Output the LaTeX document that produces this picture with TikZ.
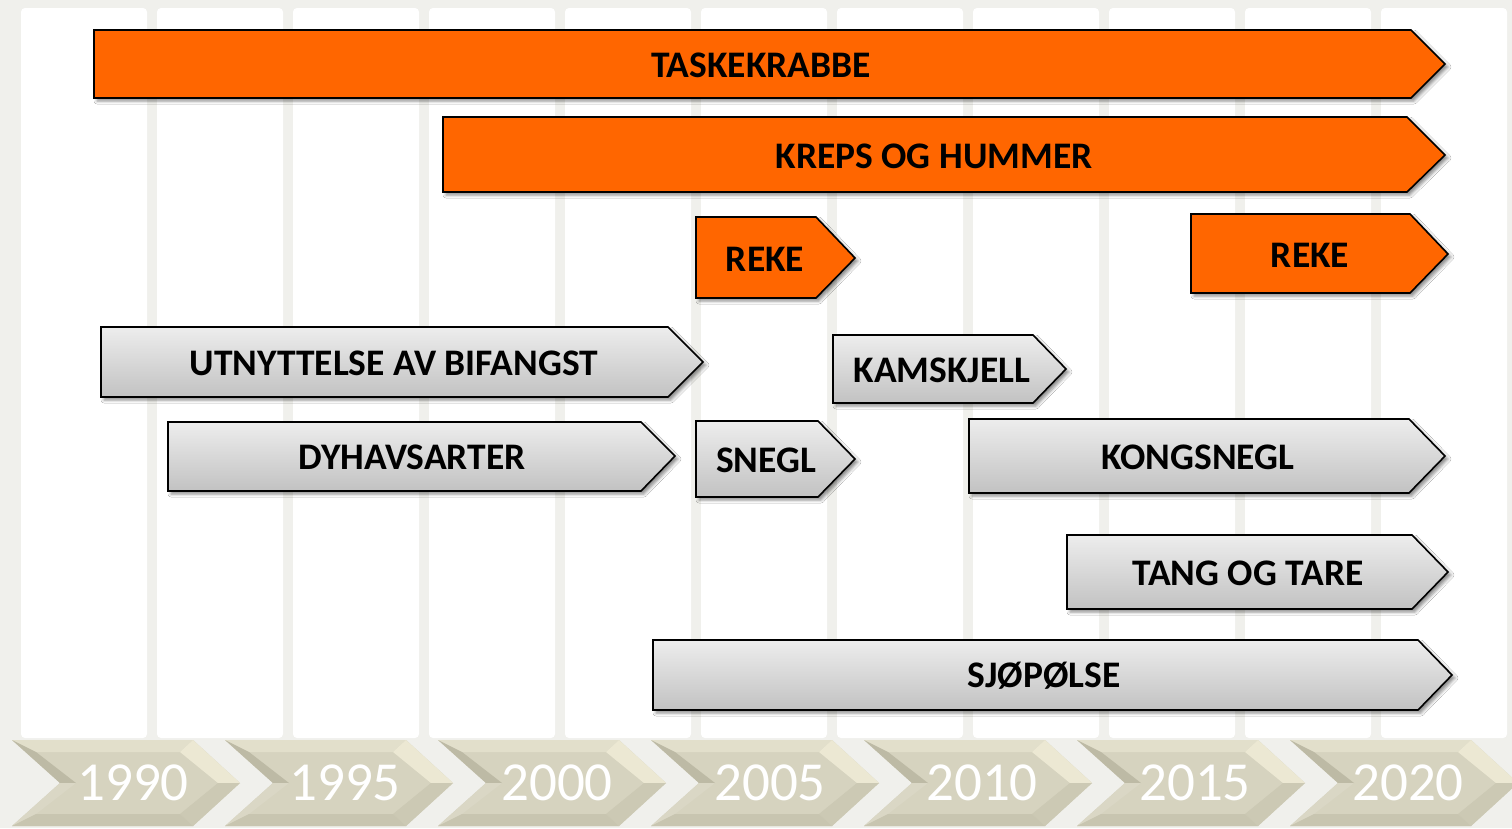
\documentclass[tikz,border=0pt]{standalone}
\usepackage{fontspec}
\setmainfont{Carlito}
\usetikzlibrary{shadows.blur}
\definecolor{bgc}{HTML}{F0F0EC}
\definecolor{orng}{HTML}{FF6600}
\definecolor{grtop}{HTML}{EDEDED}
\definecolor{grbot}{HTML}{C2C2C2}
\definecolor{chbase}{HTML}{D6D3BF}
\definecolor{chtop}{HTML}{E2DFCB}
\definecolor{chbot}{HTML}{C8C5B0}
\definecolor{chdark}{HTML}{BDBAA5}
\definecolor{chlight}{HTML}{ECE8D3}
\definecolor{chmid}{HTML}{CCC9B4}
\tikzset{
  colbox/.style={fill=white, rounded corners=4pt, draw=none},
  arrowshape/.style={draw=black, line width=1.6pt, line join=miter,
    blur shadow={shadow xshift=3pt, shadow yshift=-3pt, shadow blur radius=3pt, shadow opacity=45}},
  orangebox/.style={arrowshape, fill=orng},
  graybox/.style={arrowshape, top color=grtop, bottom color=grbot},
  lab/.style={font=\bfseries\fontsize{37.5}{42}\selectfont, text=black, inner sep=0pt, anchor=center},
  yearlab/.style={font=\fontsize{55}{60}\selectfont, text=white, inner sep=0pt, anchor=center},
}
\newcommand{\chev}[1]{%
  \begin{scope}[xshift=#1pt]
    \fill[chbase] (0,740) -- (181,740) -- (228,783) -- (181,826) -- (0,826) -- (48,783) -- cycle;
    \fill[chtop] (0,740) -- (181,740) -- (168,752) -- (24,752) -- cycle;
    \fill[chdark] (0,740) -- (24,752) -- (64,783) -- (48,783) -- cycle;
    \fill[chlight] (181,740) -- (228,783) -- (206,783) -- (168,752) -- cycle;
    \fill[chmid] (228,783) -- (181,826) -- (168,814) -- (206,783) -- cycle;
    \fill[chbase!90!white] (48,783) -- (64,783) -- (24,814) -- (0,826) -- cycle;
    \fill[chbot] (0,826) -- (181,826) -- (168,814) -- (24,814) -- cycle;
  \end{scope}}
\begin{document}
\begin{tikzpicture}[x=1pt, y=-1pt]
\useasboundingbox (0,0) rectangle (1512,828);
\fill[bgc] (0,0) rectangle (1512,828);
% columns
\foreach \i in {0,...,10} {
  \fill[colbox] ({21+136*\i},8) rectangle ({147+136*\i},738);
}
% year chevrons
\foreach \i in {0,...,6} { \chev{\number\numexpr 12+213*\i\relax} }
\node[yearlab] (y1990) at (133,783) {1990};
\node[yearlab] (y1995) at (345,783) {1995};
\node[yearlab] (y2000) at (557,783) {2000};
\node[yearlab] (y2005) at (770,783) {2005};
\node[yearlab] (y2010) at (982,783) {2010};
\node[yearlab] (y2015) at (1195,783) {2015};
\node[yearlab] (y2020) at (1408,783) {2020};
% orange arrows
\draw[orangebox] (94,30) -- (1411,30) -- (1445,64) -- (1411,98) -- (94,98) -- cycle;
\node[lab] (taske) at (761,65) {TASKEKRABBE};
\draw[orangebox] (443,117) -- (1407,117) -- (1445,155) -- (1407,192) -- (443,192) -- cycle;
\node[lab] (kreps) at (934,156) {KREPS OG HUMMER};
\draw[orangebox] (696,217) -- (816,217) -- (855,258) -- (816,298) -- (696,298) -- cycle;
\node[lab] (rekea) at (765,259) {REKE};
\draw[orangebox] (1191,214) -- (1410,214) -- (1448,254) -- (1410,293) -- (1191,293) -- cycle;
\node[lab] (rekeb) at (1310,255) {REKE};
% gray arrows
\draw[graybox] (101,327) -- (668,327) -- (703,362) -- (668,397) -- (101,397) -- cycle;
\node[lab] (utnytt) at (394,363) {UTNYTTELSE AV BIFANGST};
\draw[graybox] (833,335) -- (1033,335) -- (1066,369) -- (1033,403) -- (833,403) -- cycle;
\node[lab] (kamskjell) at (942,370) {KAMSKJELL};
\draw[graybox] (168,422) -- (641,422) -- (675,456) -- (641,491) -- (168,491) -- cycle;
\node[lab] (dyhav) at (412,457) {DYHAVSARTER};
\draw[graybox] (696,421) -- (818,421) -- (855,459) -- (818,497) -- (696,497) -- cycle;
\node[lab] (snegl) at (766,460) {SNEGL};
\draw[graybox] (969,419) -- (1409,419) -- (1445,456) -- (1409,493) -- (969,493) -- cycle;
\node[lab] (kongsnegl) at (1198,457) {KONGSNEGL};
\draw[graybox] (1067,535) -- (1412,535) -- (1448,572) -- (1412,609) -- (1067,609) -- cycle;
\node[lab] (tang) at (1248,573) {TANG OG TARE};
\draw[graybox] (653,640) -- (1418,640) -- (1452,675) -- (1418,710) -- (653,710) -- cycle;
\node[lab] (sjopolse) at (1044,676) {SJØPØLSE};
\end{tikzpicture}
\end{document}
